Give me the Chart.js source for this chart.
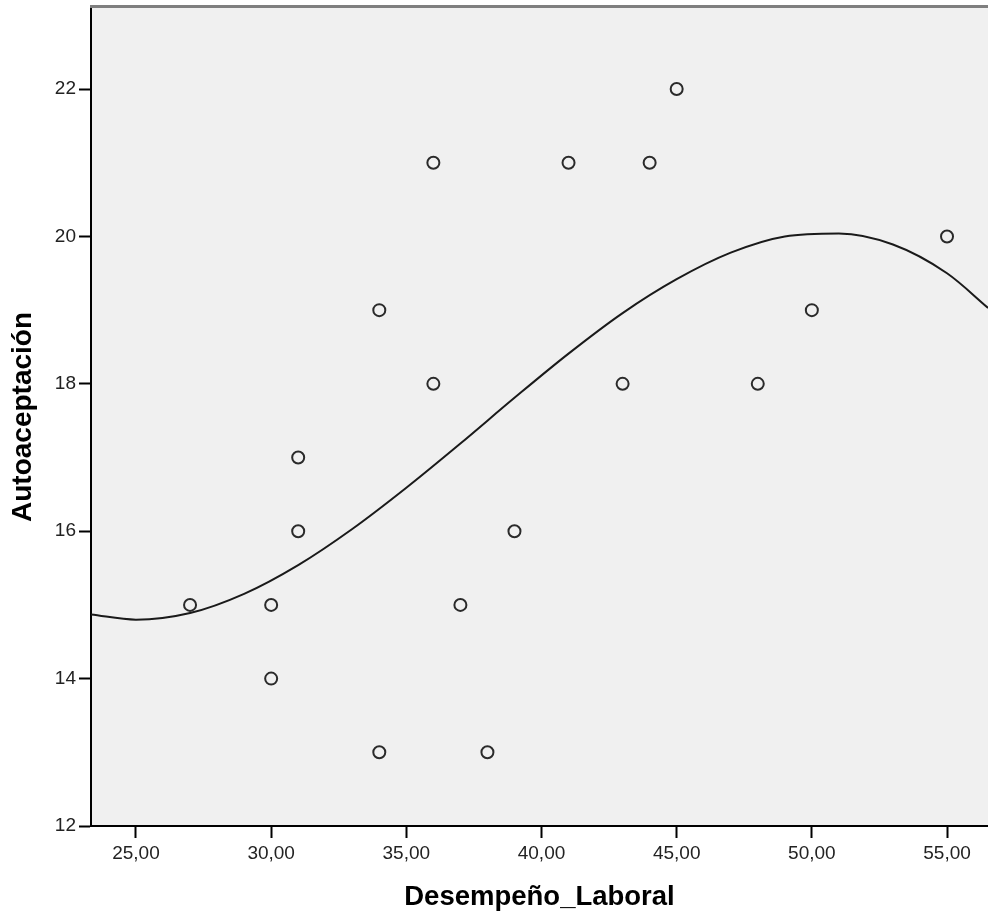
<!DOCTYPE html>
<html>
<head>
<meta charset="utf-8">
<script src="https://cdn.jsdelivr.net/npm/chart.js@4.4.1/dist/chart.umd.min.js"></script>
<style>
  html, body { margin: 0; padding: 0; background: #fff; overflow: hidden; }
  #wrap { width: 988px; height: 918px; }
</style>
</head>
<body>
<div id="wrap"><canvas id="chart" width="988" height="918"></canvas></div>
<script>
// ---------------------------------------------------------------------------
// Data
// ---------------------------------------------------------------------------

var desempeno = [27, 30, 30, 31, 31, 34, 34, 36, 36, 37, 38, 39, 41, 43, 44, 45, 48, 50, 55];
var autoacept = [15, 15, 14, 17, 16, 19, 13, 21, 18, 15, 13, 16, 21, 18, 21, 22, 18, 19, 20];

// cubic fit line
var fitX = [23.34, 25, 27, 29, 31, 33, 35, 37, 39, 41, 43, 45, 47, 49, 51, 53, 55, 56.52];
var fitY = [14.87, 14.80, 14.89, 15.15, 15.54, 16.03, 16.59, 17.19, 17.81, 18.41, 18.96, 19.42, 19.78, 20.00, 20.04, 19.89, 19.50, 19.03];

var xTicks = [25, 30, 35, 40, 45, 50, 55];
var yTicks = [12, 14, 16, 18, 20, 22];

var xTitle = 'Desempeño_Laboral';
var yTitle = 'Autoaceptación';

// ---------------------------------------------------------------------------
// Frame: grey plot background and the grey top rule
// ---------------------------------------------------------------------------

var framePlugin = {
  id: 'frame',
  beforeDraw: function (chart) {
    var a = chart.chartArea, ctx = chart.ctx;
    ctx.save();
    ctx.fillStyle = '#f0f0f0';
    ctx.fillRect(a.left, a.top, a.right - a.left, a.bottom - a.top);
    ctx.restore();
  },
  afterDraw: function (chart) {
    var a = chart.chartArea, ctx = chart.ctx;
    ctx.save();
    ctx.strokeStyle = '#7f7f7f';
    ctx.lineWidth = 3;
    ctx.beginPath();
    ctx.moveTo(a.left - 1, a.top - 1.5);
    ctx.lineTo(a.right, a.top - 1.5);
    ctx.stroke();
    ctx.restore();
  }
};

function pts(xs, ys) {
  return xs.map(function (x, i) { return { x: x, y: ys[i] }; });
}

// fixed axis boxes, no extra padding for the end labels
function fixBox(w, h) {
  return function (s) {
    if (w) s.width = w;
    if (h) s.height = h;
    s.paddingTop = 0; s.paddingBottom = 0; s.paddingLeft = 0; s.paddingRight = 0;
  };
}

var tickFont = { family: 'Arial, "Liberation Sans", sans-serif', size: 19 };

new Chart(document.getElementById('chart'), {
  type: 'scatter',
  data: {
    datasets: [{
      data: pts(fitX, fitY),
      showLine: true,
      borderColor: '#1a1a1a',
      borderWidth: 2,
      pointRadius: 0,
      cubicInterpolationMode: 'monotone',
      order: 2
    }, {
      data: pts(desempeno, autoacept),
      showLine: false,
      pointRadius: 6,
      pointBorderWidth: 2,
      pointBorderColor: '#2a2a2a',
      pointBackgroundColor: 'rgba(0,0,0,0)',
      order: 1
    }]
  },
  options: {
    responsive: false,
    animation: false,
    layout: { autoPadding: false, padding: { top: 8, right: 0, left: 0, bottom: 0 } },
    plugins: {
      legend: { display: false },
      tooltip: { enabled: false }
    },
    scales: {
      x: {
        type: 'linear',
        min: 23.336,
        max: 56.516,
        afterBuildTicks: function (s) { s.ticks = xTicks.map(function (v) { return { value: v }; }); },
        afterFit: fixBox(0, 92),
        grid: { drawOnChartArea: false, tickLength: 12, tickColor: '#000', tickWidth: 2 },
        border: { color: '#000', width: 2 },
        ticks: {
          color: '#222',
          font: tickFont,
          padding: 4,
          maxRotation: 0,
          callback: function (v) { return v.toFixed(2).replace('.', ','); }
        },
        title: {
          display: true, text: xTitle, color: '#000',
          font: { family: 'Arial, "Liberation Sans", sans-serif', size: 27.5, weight: 'bold' },
          padding: { top: 0, bottom: 4 }
        }
      },
      y: {
        type: 'linear',
        min: 12,
        max: 23.10,
        afterBuildTicks: function (s) { s.ticks = yTicks.map(function (v) { return { value: v }; }); },
        afterFit: fixBox(91, 0),
        grid: { drawOnChartArea: false, tickLength: 12, tickColor: '#000', tickWidth: 2 },
        border: { color: '#000', width: 2 },
        ticks: {
          color: '#222',
          font: tickFont,
          padding: 3,
          callback: function (v) { return String(v); }
        },
        title: {
          display: true, text: yTitle, color: '#000',
          font: { family: 'Arial, "Liberation Sans", sans-serif', size: 28, weight: 'bold' },
          padding: { top: 6, bottom: 0 }
        }
      }
    }
  },
  plugins: [framePlugin]
});
</script>
</body>
</html>
